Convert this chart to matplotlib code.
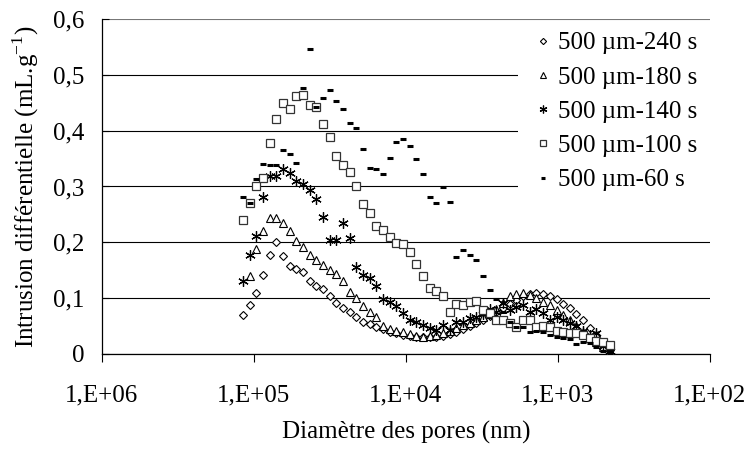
import matplotlib
matplotlib.use('Agg')
import matplotlib.pyplot as plt
import numpy as np
from matplotlib.ticker import FixedLocator, FuncFormatter, NullLocator

plt.rcParams['font.family'] = ['Liberation Serif', 'DejaVu Serif']
plt.rcParams['mathtext.fontset'] = 'custom'
plt.rcParams['mathtext.rm'] = 'Liberation Serif'

# diametre des pores (nm)
diametre = [118200, 106800, 96500, 87300, 78900, 71300, 64400, 58200, 52600, 47600,
            43000, 38900, 35100, 31800, 28700, 25900, 23500, 21200, 19200, 17300,
            15700, 14200, 12800, 11600, 10450, 9450, 8540, 7720, 6980, 6310,
            5700, 5150, 4660, 4210, 3810, 3440, 3110, 2810, 2540, 2300,
            2080, 1880, 1700, 1530, 1390, 1250, 1130, 1020, 925, 836,
            756, 683, 618, 558, 505, 456]

s240 = [0.070, 0.087, 0.109, 0.142, 0.178, 0.200, 0.175, 0.158, 0.153, 0.146,
        0.131, 0.122, 0.116, 0.103, 0.092, 0.082, 0.075, 0.067, 0.058, 0.053,
        0.049, 0.044, 0.040, 0.037, 0.034, 0.032, 0.031, 0.030, 0.030, 0.031,
        0.033, 0.036, 0.040, 0.045, 0.050, 0.055, 0.061, 0.068, 0.075, 0.083,
        0.090, 0.097, 0.104, 0.108, 0.110, 0.108, 0.104, 0.098, 0.090, 0.082,
        0.072, 0.060, 0.047, 0.034, 0.020, 0.008]

s180 = [np.nan, 0.139, 0.188, 0.221, 0.244, 0.244, 0.234, 0.221, 0.203, 0.192,
        0.177, 0.168, 0.160, 0.150, 0.144, 0.131, 0.111, 0.101, 0.086, 0.076,
        0.066, 0.051, 0.044, 0.042, 0.040, 0.036, 0.033, 0.031, 0.032, 0.034,
        0.037, 0.042, 0.047, 0.052, 0.056, 0.061, 0.066, 0.072, 0.080, 0.092,
        0.104, 0.108, 0.110, 0.106, 0.100, 0.094, 0.087, 0.079, 0.070, 0.060,
        0.050, 0.040, 0.030, 0.022, 0.013, 0.006]

s140 = [0.130, 0.177, 0.211, 0.282, 0.319, 0.319, 0.332, 0.325, 0.309, 0.305,
        0.293, 0.278, 0.246, 0.205, 0.205, 0.235, 0.207, 0.155, 0.142, 0.136,
        0.122, 0.098, 0.094, 0.086, 0.073, 0.061, 0.058, 0.052, 0.046, 0.043,
        0.052, 0.043, 0.058, 0.058, 0.064, 0.067, 0.072, 0.080, 0.076, 0.091,
        0.079, 0.085, 0.088, 0.076, 0.080, 0.073, 0.061, 0.066, 0.060, 0.055,
        0.050, 0.042, 0.034, 0.037, 0.015, 0.005]

s100 = [0.240, 0.271, 0.301, 0.316, 0.377, 0.421, 0.449, 0.439, 0.462, 0.463,
        0.446, 0.442, 0.412, 0.389, 0.354, 0.338, 0.326, 0.300, 0.269, 0.252,
        0.229, 0.222, 0.210, 0.199, 0.197, 0.183, 0.162, 0.140, 0.119, 0.112,
        0.104, 0.076, 0.090, 0.087, 0.094, 0.095, 0.079, 0.073, 0.061, 0.061,
        0.055, 0.049, 0.061, 0.061, 0.049, 0.050, 0.049, 0.042, 0.040, 0.037,
        0.038, 0.034, 0.028, 0.023, 0.021, 0.016]

s60 = [0.282, 0.271, 0.314, 0.340, 0.338, 0.338, 0.366, 0.359, 0.342, 0.476,
       0.546, 0.443, 0.458, 0.472, 0.453, 0.438, 0.413, 0.404, 0.367, 0.334,
       0.331, 0.322, 0.351, 0.379, 0.385, 0.373, 0.349, 0.322, 0.282, 0.271,
       0.299, 0.273, 0.173, 0.186, 0.177, 0.168, 0.139, 0.114, 0.099, 0.075,
       0.058, 0.049, 0.048, 0.040, 0.042, 0.039, 0.034, 0.030, 0.028, 0.026,
       0.017, 0.022, 0.020, 0.013, 0.006, 0.001]

labels = ['500 µm-240 s', '500 µm-180 s', '500 µm-140 s', '500 µm-100 s', '500 µm-60 s']

fs = 18

fig = plt.figure(figsize=(7.52, 4.51), dpi=100)
ax = fig.add_axes([0.1356, 0.2151, 0.8085, 0.7428])

ax.plot(diametre, s240, ls='none', marker='D', ms=4.2, mfc='white', mec='black', mew=0.8, label=labels[0], zorder=3)
ax.plot(diametre, s180, ls='none', marker='^', ms=6.4, mfc='white', mec='black', mew=0.8, label=labels[1], zorder=3)
ax.plot(diametre, s140, ls='none', marker=(6, 2, 0), ms=7.5, mec='black', mew=0.9, label=labels[2], zorder=3)
ax.plot(diametre, s100, ls='none', marker='s', ms=6, mfc='white', mec='#333333', mew=0.9, label=labels[3], zorder=3)
ax.plot(diametre, s60, ls='none', marker='_', ms=4.5, mec='black', mew=2.2, label=labels[4], zorder=3)

ax.set_xscale('log')
ax.set_xlim(1e6, 1e2)
ax.set_ylim(0, 0.6)
ax.xaxis.set_major_locator(FixedLocator([1e6, 1e5, 1e4, 1e3, 1e2]))
ax.xaxis.set_minor_locator(NullLocator())
ax.xaxis.set_major_formatter(FuncFormatter(lambda v, p: '1,E+%02d' % round(np.log10(v))))
ax.set_yticks([0, 0.1, 0.2, 0.3, 0.4, 0.5, 0.6])
ax.yaxis.set_major_formatter(FuncFormatter(lambda v, p: '0' if v == 0 else ('%.1f' % v).replace('.', ',')))

ax.grid(axis='y', color='black', lw=0.8)
ax.yaxis.get_gridlines()[-1].set_color('#777777')
ax.set_axisbelow(True)
for side in ['top', 'right']:
    ax.spines[side].set_visible(False)
ax.spines['left'].set_linewidth(0.9)
ax.spines['bottom'].set_linewidth(0.9)
ax.tick_params(axis='x', direction='out', length=6, width=0.8, labelsize=fs, pad=16)
ax.tick_params(axis='y', direction='in', length=5, width=0.8, labelsize=fs, pad=12.5)

ax.set_xlabel('Diamètre des pores (nm)', fontsize=fs, labelpad=10)
ax.set_ylabel(r'Intrusion différentielle (mL.g$^{\mathregular{-1}}$)', fontsize=fs, labelpad=9)

leg = ax.legend(loc='upper left', bbox_to_anchor=(0.684, 0.5, 0.32, 0.495), mode='expand',
                fontsize=fs, frameon=True, fancybox=False, edgecolor='none', facecolor='white',
                framealpha=1, handlelength=1.1, handletextpad=0.05, labelspacing=0.47,
                markerscale=0.75, borderaxespad=0, borderpad=0.45)
leg.set_zorder(5)

fig.savefig('out.png', dpi=100)
